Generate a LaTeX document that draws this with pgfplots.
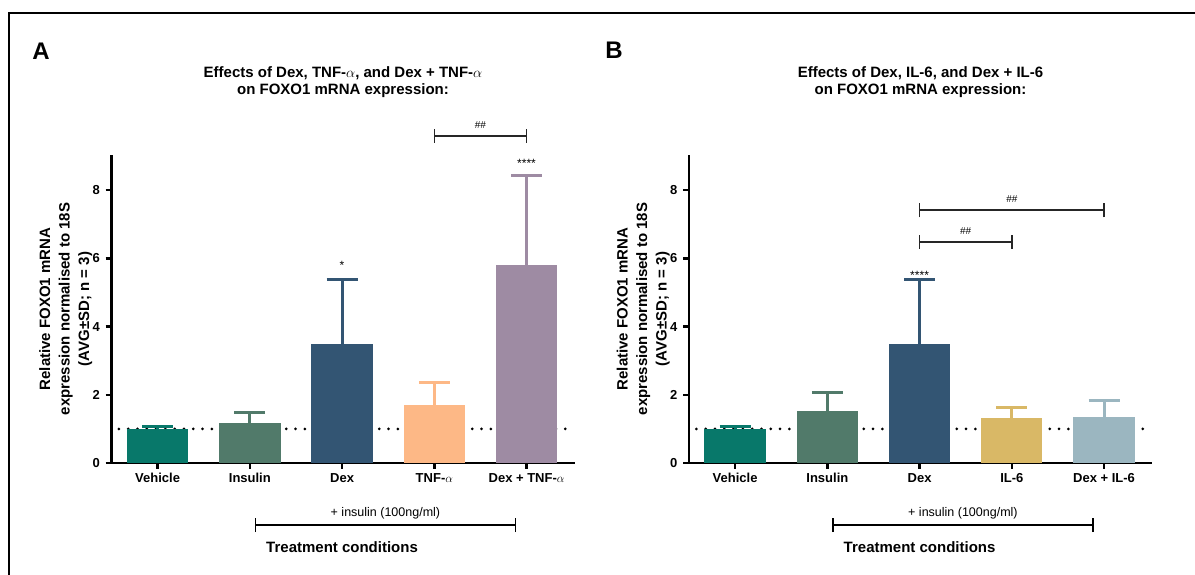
\documentclass[border=0pt]{standalone}
\usepackage{fontspec}
\setmainfont{Liberation Sans}
\usepackage{pgfplots}
\pgfplotsset{compat=1.18}

\definecolor{cVeh}{RGB}{8,120,106}
\definecolor{cIns}{RGB}{81,122,106}
\definecolor{cDex}{RGB}{51,85,115}
\definecolor{cTNF}{RGB}{253,184,134}
\definecolor{cDT}{RGB}{158,139,163}
\definecolor{cIL}{RGB}{217,184,102}
\definecolor{cDI}{RGB}{155,182,192}

\newcommand{\bracket}[4][black!85]{%
  \draw[line width=1.6pt, #1] (axis cs:#2,#4) -- (axis cs:#3,#4);
  \draw[line width=1.6pt, #1] ([yshift=-7pt]axis cs:#2,#4) -- ([yshift=7pt]axis cs:#2,#4);
  \draw[line width=1.6pt, #1] ([yshift=-7pt]axis cs:#3,#4) -- ([yshift=7pt]axis cs:#3,#4);
}

\pgfplotsset{
  panel/.style={
    scale only axis, width=463pt, height=308pt,
    xmin=-0.5, xmax=4.52, ymin=0, ymax=9.03,
    axis x line*=bottom, axis y line*=left,
    axis line style={line width=2.5pt},
    xtick={0,1,2,3,4}, ytick={0,2,4,6,8},
    tick align=outside, major tick length=6pt,
    tick style={line width=2.5pt, black},
    x tick label style={font=\fontsize{13}{15}\selectfont\bfseries, yshift=-1pt},
    y tick label style={font=\fontsize{13}{15}\selectfont\bfseries, xshift=-2pt},
    /pgf/number format/assume math mode=true,
    clip=false,
    ylabel style={align=center, font=\fontsize{15}{19.5}\selectfont\bfseries,
      at={(axis description cs:-0.099,0.5)}, anchor=center},
    title style={align=center, font=\fontsize{15}{17}\selectfont\bfseries,
      at={(axis description cs:0.5,1)}, anchor=center, yshift=66.5pt},
  },
  mybar/.style={ybar, bar width=0.665, bar shift=0pt, fill=#1, draw=none,
    error bars/.cd, y dir=plus, y explicit,
    error bar style={line width=3pt, #1},
    error mark options={rotate=90, mark size=15.5pt, line width=3pt, #1}},
  refline/.style={black, line width=3pt, line cap=round, dash pattern=on 0pt off 9.3pt, forget plot},
}

\begin{document}
\begin{tikzpicture}
\useasboundingbox (0,0) rectangle (1195pt,575pt);
\draw[line width=2pt] (9pt,0) -- (9pt,562pt) -- (1195pt,562pt);
\node[font=\fontsize{24}{24}\selectfont\bfseries] at (41pt,524pt) {A};
\node[font=\fontsize{24}{24}\selectfont\bfseries] at (614pt,525pt) {B};

% Panel A
\begin{axis}[panel, at={(111.5pt,112pt)}, anchor=south west,
  xticklabels={Vehicle, Insulin, Dex, TNF-$\alpha$, Dex + TNF-$\alpha$},
  ylabel={Relative FOXO1 mRNA\\expression normalised to 18S\\(AVG±SD; n = 3)},
  title={Effects of Dex, TNF-$\alpha$, and Dex + TNF-$\alpha$\\on FOXO1 mRNA expression:}]
\addplot[refline] coordinates {(-0.42,1) (4.52,1)};
\addplot[mybar=cVeh] coordinates {(0,1.00) +- (0,0.07)};
\addplot[mybar=cIns] coordinates {(1,1.17) +- (0,0.32)};
\addplot[mybar=cDex] coordinates {(2,3.48) +- (0,1.89)};
\addplot[mybar=cTNF] coordinates {(3,1.69) +- (0,0.68)};
\addplot[mybar=cDT] coordinates {(4,5.81) +- (0,2.62)};
\node[font=\fontsize{12}{12}\selectfont] at (axis cs:2,5.80) {*};
\node[font=\fontsize{12}{12}\selectfont] at (axis cs:4,8.78) {****};
\bracket{3}{4}{9.59}
\node[font=\fontsize{10}{10}\selectfont] at (axis cs:3.5,9.91) {\#\#};
\bracket[black]{1.06}{3.88}{-1.82}
\node[font=\fontsize{12.5}{14}\selectfont] at (axis cs:2.47,-1.47) {+ insulin (100ng/ml)};
\node[font=\fontsize{15}{17}\selectfont\bfseries] at (axis cs:2.0,-2.46) {Treatment conditions};
\end{axis}

% Panel B
\begin{axis}[panel, at={(689pt,112pt)}, anchor=south west,
  xticklabels={Vehicle, Insulin, Dex, IL-6, Dex + IL-6},
  ylabel={Relative FOXO1 mRNA\\expression normalised to 18S\\(AVG±SD; n = 3)},
  title={Effects of Dex, IL-6, and Dex + IL-6\\on FOXO1 mRNA expression:}]
\addplot[refline] coordinates {(-0.42,1) (4.52,1)};
\addplot[mybar=cVeh] coordinates {(0,1.00) +- (0,0.07)};
\addplot[mybar=cIns] coordinates {(1,1.51) +- (0,0.57)};
\addplot[mybar=cDex] coordinates {(2,3.48) +- (0,1.89)};
\addplot[mybar=cIL] coordinates {(3,1.32) +- (0,0.31)};
\addplot[mybar=cDI] coordinates {(4,1.35) +- (0,0.48)};
\node[font=\fontsize{12}{12}\selectfont] at (axis cs:2,5.51) {****};
\bracket{2}{4}{7.41}
\node[font=\fontsize{10}{10}\selectfont] at (axis cs:3,7.73) {\#\#};
\bracket{2}{3}{6.48}
\node[font=\fontsize{10}{10}\selectfont] at (axis cs:2.5,6.80) {\#\#};
\bracket[black]{1.06}{3.88}{-1.82}
\node[font=\fontsize{12.5}{14}\selectfont] at (axis cs:2.47,-1.47) {+ insulin (100ng/ml)};
\node[font=\fontsize{15}{17}\selectfont\bfseries] at (axis cs:2.0,-2.46) {Treatment conditions};
\end{axis}
\end{tikzpicture}
\end{document}
